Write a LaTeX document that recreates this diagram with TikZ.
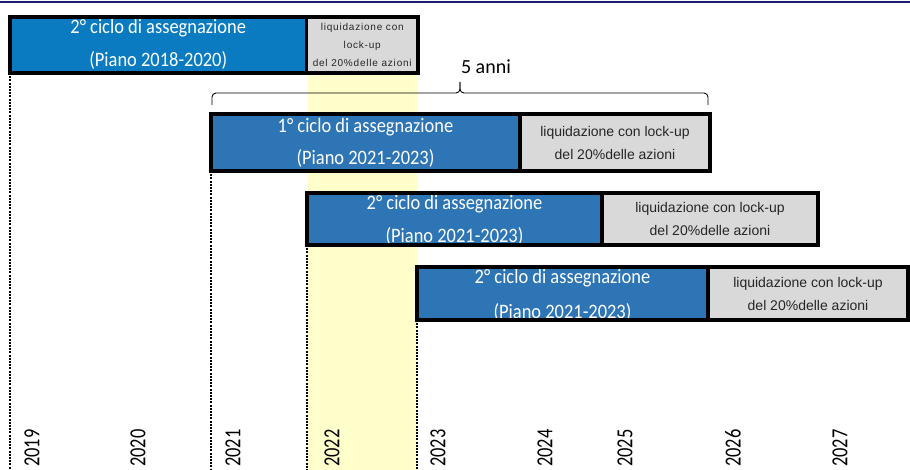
\documentclass[tikz,border=0pt]{standalone}
\usepackage{fontspec}
\setmainfont{Carlito}
\newfontfamily\condfont[FakeStretch=0.9]{Carlito}
\newfontfamily\yearfont[FakeStretch=0.8]{Carlito}
\newfontfamily\grayfont{Liberation Sans}
\newfontfamily\grayspaced[LetterSpace=8]{Liberation Sans}
\usetikzlibrary{calc}
\definecolor{navy}{HTML}{1C1C6E}
\definecolor{blueA}{HTML}{0B7BC1}
\definecolor{blueB}{HTML}{2E75B6}
\definecolor{grayfill}{HTML}{D9D9D9}
\definecolor{yel}{HTML}{FFFFCC}
\begin{document}
\begin{tikzpicture}[x=1pt,y=-1pt,
  barpart/.style={inner sep=0pt,outer sep=0pt,anchor=north west,align=center},
  bluebox/.style={barpart,fill=blueB},
  titletext/.style={anchor=base,inner sep=0pt,text=white,font=\condfont\fontsize{20.5}{24}\selectfont},
  graybox/.style={barpart,fill=grayfill,text=black!85,font=\grayfont\fontsize{14}{23}\selectfont},
  graysmall/.style={barpart,fill=grayfill,text=black!85,font=\grayspaced\fontsize{10}{18}\selectfont},
  border/.style={draw=black,line width=3.5pt},
  dashline/.style={draw=black,line width=1.6pt,dash pattern=on 2pt off 1.2pt},
  year/.style={rotate=90,anchor=west,inner sep=0pt,font=\yearfont\fontsize{23}{24}\selectfont},
  bracestyle/.style={draw=black,line width=0.9pt,rounded corners=4pt}]
\useasboundingbox (0,0) rectangle (910,470);
\coordinate (bottom) at (0,470);
% top rule
\draw[navy,line width=2.5pt] (0,2) -- (910,2);
% yellow highlight
\fill[yel] (308,75) rectangle (418,470);
% bars
\node[bluebox,fill=blueA,minimum width=296.5,minimum height=56] (b1) at (10,17) {};
\node[graysmall,minimum width=111.5,minimum height=56] (g1) at (306.5,17) {liquidazione con\\lock-up\\del 20\%delle azioni};
\node[bluebox,minimum width=309,minimum height=57] (b2) at (211,114) {};
\node[graybox,minimum width=190,minimum height=57] (g2) at (520,114) {liquidazione con lock-up\\del 20\%delle azioni};
\node[bluebox,minimum width=295,minimum height=52] (b3) at (307,193) {};
\node[graybox,minimum width=216,minimum height=52] (g3) at (602,193) {liquidazione con lock-up\\del 20\%delle azioni};
\node[bluebox,minimum width=291,minimum height=53] (b4) at (417,267) {};
\node[graybox,minimum width=200,minimum height=53] (g4) at (708,267) {liquidazione con lock-up\\del 20\%delle azioni};
% titles, clipped to their blue boxes
\begin{scope}
  \clip (b1.north west) rectangle (b1.south east);
  \node[titletext] (t1a) at ($(b1.north)+(0,17)$) {2° ciclo di assegnazione};
  \node[titletext] (t1b) at ($(b1.north)+(0,50)$) {(Piano 2018-2020)};
\end{scope}
\begin{scope}
  \clip (b2.north west) rectangle (b2.south east);
  \node[titletext] (t2a) at ($(b2.north)+(0,19)$) {1° ciclo di assegnazione};
  \node[titletext] (t2b) at ($(b2.north)+(0,51)$) {(Piano 2021-2023)};
\end{scope}
\begin{scope}
  \clip (b3.north west) rectangle (b3.south east);
  \node[titletext] (t3a) at ($(b3.north)+(0,16.5)$) {2° ciclo di assegnazione};
  \node[titletext] (t3b) at ($(b3.north)+(0,50)$) {(Piano 2021-2023)};
\end{scope}
\begin{scope}
  \clip (b4.north west) rectangle (b4.south east);
  \node[titletext] (t4a) at ($(b4.north)+(0,16.5)$) {2° ciclo di assegnazione};
  \node[titletext] (t4b) at ($(b4.north)+(0,51)$) {(Piano 2021-2023)};
\end{scope}
% dashed lines
\foreach \b in {b1,b2,b3,b4}{
  \draw[dashline] (\b.south west) -- (\b.south west |- bottom);
}
% borders
\foreach \b/\g in {b1/g1,b2/g2,b3/g3,b4/g4}{
  \draw[border] (\b.north west) rectangle (\g.south east);
  \draw[border] (\b.north east) -- (\b.south east);
}
% brace
\coordinate (braceL) at (212,105);
\coordinate (braceR) at (708,105);
\coordinate (braceM) at (460,93);
\coordinate (braceTip) at (460,82);
\draw[bracestyle] (braceL) -- (braceL |- braceM) -- (braceM) -- (braceTip);
\draw[bracestyle] (braceR) -- (braceR |- braceM) -- (braceM) -- (braceTip);
\node[font=\fontsize{20}{22}\selectfont,inner sep=0pt] (anni) at (486,67) {5 anni};
% years
\node[year] (y2019) at (32,467) {2019};
\node[year] (y2020) at (138,467) {2020};
\node[year] (y2021) at (233,467) {2021};
\node[year] (y2022) at (332,467) {2022};
\node[year] (y2023) at (438,467) {2023};
\node[year] (y2024) at (545,467) {2024};
\node[year] (y2025) at (625,467) {2025};
\node[year] (y2026) at (733,467) {2026};
\node[year] (y2027) at (840,467) {2027};
\end{tikzpicture}
\end{document}
